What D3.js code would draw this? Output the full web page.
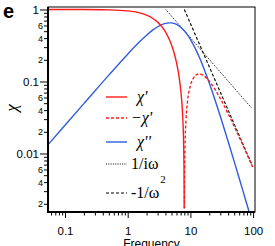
<!DOCTYPE html>
<html>
<head>
<meta charset="utf-8">
<script src="https://cdn.jsdelivr.net/npm/d3@7"></script>
<style>
  body { margin: 0; background: #fff; }
  svg { display: block; }
</style>
</head>
<body>
<svg id="chart"></svg>
<script>
// chi' (positive part, below resonance)
const freqRe = [0.05, 0.1, 0.2, 0.5, 1, 1.5, 2, 2.5, 3, 3.5, 4, 4.5, 5, 5.5, 6, 6.5, 7, 7.5, 7.8, 7.9, 7.95, 7.973];
const chiRe = [1.0, 0.9995, 0.9982, 0.9887, 0.9557, 0.9033, 0.835, 0.7549, 0.6676, 0.5773, 0.4877, 0.4017, 0.3215, 0.2485, 0.1833, 0.1263, 0.077, 0.0352, 0.0133, 0.00653, 0.00324, 0.00174];

// -chi' (above resonance)
const freqNeg = [8.027, 8.05, 8.1, 8.2, 8.5, 9, 10, 11, 12, 13, 14, 16, 20, 25, 30, 40, 50, 60, 70, 80, 90, 100];
const negChiRe = [0.00172, 0.00317, 0.00629, 0.01234, 0.02915, 0.053, 0.0877, 0.109, 0.1209, 0.1263, 0.1273, 0.1219, 0.1011, 0.0763, 0.0579, 0.0356, 0.0238, 0.0169, 0.0126, 0.00971, 0.00772, 0.00628];

// chi''
const freqIm = [0.05, 0.1, 0.2, 0.5, 1, 1.5, 2, 2.5, 3, 3.5, 4, 4.5, 5, 5.5, 6, 6.5, 7, 8, 9, 10, 12, 14, 16, 20, 25, 30, 40, 50, 60, 70, 80, 90];
const chiIm = [0.01235, 0.0247, 0.0493, 0.1226, 0.2397, 0.3468, 0.4398, 0.5164, 0.5755, 0.617, 0.6422, 0.6529, 0.6513, 0.6399, 0.6209, 0.5963, 0.5681, 0.5063, 0.4437, 0.385, 0.2865, 0.2133, 0.1605, 0.0951, 0.0537, 0.0329, 0.01466, 0.00771, 0.00453, 0.00288, 0.00194, 0.00137];

// asymptotes
const freqInv = [4.05, 95];
const invOmega = [1, 0.0426];
const freqSq = [8, 97];
const invOmegaSq = [1, 0.0068];

// ticks
const xMajor = [0.1, 1, 10, 100];
const xMajorLabels = ["0.1", "1", "10", "100"];
const xMinor = [0.06, 0.07, 0.08, 0.09, 0.2, 0.3, 0.4, 0.5, 0.6, 0.7, 0.8, 0.9,
  2, 3, 4, 5, 6, 7, 8, 9, 20, 30, 40, 50, 60, 70, 80, 90];
const yMajor = [1, 0.1, 0.01];
const yMajorLabels = ["1", "0.1", "0.01"];
const yMinor = [0.9, 0.8, 0.7, 0.6, 0.5, 0.4, 0.3, 0.2,
  0.09, 0.08, 0.07, 0.06, 0.05, 0.04, 0.03, 0.02,
  0.009, 0.008, 0.007, 0.006, 0.005, 0.004, 0.003, 0.002];
const yMinorLabeled = [0.6, 0.4, 0.2, 0.06, 0.04, 0.02, 0.006, 0.004, 0.002];
const yMinorLabels = ["6", "4", "2", "6", "4", "2", "6", "4", "2"];

const legendItems = ["χ'", "−χ'", "χ''", "1/iω", "-1/ω"];

const W = 275, H = 246;
const L = 48, R = 255, T = 7, B = 212;

const svg = d3.select("#chart").attr("width", W).attr("height", H);

const x = d3.scaleLog().domain([0.0536, 107.2]).range([L, R]);
const y = d3.scaleLog().domain([1.083, 0.00154]).range([T, B]);

const sans = "'Liberation Sans', Arial, sans-serif";
const serif = "'Liberation Serif', 'Times New Roman', serif";

svg.append("defs").append("clipPath").attr("id", "plotClip")
  .append("rect").attr("x", L).attr("y", T).attr("width", R - L).attr("height", B - T);

const toPts = (fs, vs) => fs.map((f, i) => [f, vs[i]]);
const line = d3.line()
  .x(d => x(d[0]))
  .y(d => y(d[1]))
  .curve(d3.curveMonotoneX);

const plot = svg.append("g").attr("clip-path", "url(#plotClip)");

plot.append("path")
  .attr("d", line(toPts(freqInv, invOmega)))
  .attr("fill", "none").attr("stroke", "#000").attr("stroke-width", 1)
  .attr("stroke-dasharray", "1,1.3");

plot.append("path")
  .attr("d", line(toPts(freqSq, invOmegaSq)))
  .attr("fill", "none").attr("stroke", "#000").attr("stroke-width", 1.1)
  .attr("stroke-dasharray", "3,2");

plot.append("path")
  .attr("d", line(toPts(freqIm, chiIm)))
  .attr("fill", "none").attr("stroke", "#2f5ce3").attr("stroke-width", 1.4);

plot.append("path")
  .attr("d", line(toPts(freqRe, chiRe)))
  .attr("fill", "none").attr("stroke", "#ff1a1a").attr("stroke-width", 1.4);

plot.append("path")
  .attr("d", line(toPts(freqNeg, negChiRe)))
  .attr("fill", "none").attr("stroke", "#ff1a1a").attr("stroke-width", 1.4)
  .attr("stroke-dasharray", "3,2");

// frame
svg.append("rect")
  .attr("x", L).attr("y", T).attr("width", R - L).attr("height", B - T)
  .attr("fill", "none").attr("stroke", "#000").attr("stroke-width", 1);

// axes
const styleAxis = g => {
  g.select(".domain").remove();
  g.selectAll(".tick line").attr("stroke", "#000").attr("stroke-width", 1);
};

svg.append("g").attr("transform", `translate(0,${B})`)
  .call(d3.axisBottom(x).tickValues(xMinor).tickSize(3.5).tickFormat(""))
  .call(styleAxis);

svg.append("g").attr("transform", `translate(0,${B})`)
  .call(d3.axisBottom(x).tickValues(xMajor).tickSize(6).tickPadding(9)
    .tickFormat((d, i) => xMajorLabels[i]))
  .call(styleAxis)
  .call(g => g.selectAll("text").attr("font-family", sans).attr("font-size", 11.5).attr("fill", "#000"));

svg.append("g").attr("transform", `translate(${L},0)`)
  .call(d3.axisLeft(y).tickValues(yMinor).tickSize(4).tickPadding(1)
    .tickFormat(d => {
      const k = yMinorLabeled.findIndex(v => Math.abs(v - d) < 1e-9);
      return k >= 0 ? yMinorLabels[k] : "";
    }))
  .call(styleAxis)
  .call(g => g.selectAll("text").attr("font-family", sans).attr("font-size", 9).attr("fill", "#000"));

svg.append("g").attr("transform", `translate(${L},0)`)
  .call(d3.axisLeft(y).tickValues(yMajor).tickSize(8).tickPadding(1)
    .tickFormat((d, i) => yMajorLabels[i]))
  .call(styleAxis)
  .call(g => g.selectAll("text").attr("font-family", sans).attr("font-size", 11.5).attr("fill", "#000"));

// thick left & bottom axis lines
svg.append("line").attr("x1", L).attr("x2", L).attr("y1", T).attr("y2", B + 1)
  .attr("stroke", "#000").attr("stroke-width", 2);
svg.append("line").attr("x1", L - 1).attr("x2", R).attr("y1", B).attr("y2", B)
  .attr("stroke", "#000").attr("stroke-width", 2);

// axis titles
svg.append("text")
  .attr("x", (L + R) / 2).attr("y", 248)
  .attr("text-anchor", "middle")
  .attr("font-family", sans).attr("font-size", 12)
  .text("Frequency");

svg.append("text")
  .attr("transform", "translate(17,108) rotate(-90)")
  .attr("text-anchor", "middle")
  .attr("font-family", serif).attr("font-style", "italic").attr("font-size", 17)
  .text("χ");

svg.append("text")
  .attr("x", 3).attr("y", 18)
  .attr("font-family", sans).attr("font-weight", "bold").attr("font-size", 20)
  .text("e");

// legend
const legY = [97, 118, 142, 164, 193];
const legStyle = [
  { stroke: "#ff1a1a", dash: null, w: 1.4 },
  { stroke: "#ff1a1a", dash: "3,2", w: 1.4 },
  { stroke: "#2f5ce3", dash: null, w: 1.4 },
  { stroke: "#000", dash: "1,1.3", w: 1 },
  { stroke: "#000", dash: "3,2", w: 1.1 }
];
const legX = [137, 131, 137, 131, 131];

const leg = svg.append("g");
legendItems.forEach((t, i) => {
  leg.append("line")
    .attr("x1", 106).attr("x2", 127)
    .attr("y1", legY[i]).attr("y2", legY[i])
    .attr("stroke", legStyle[i].stroke)
    .attr("stroke-width", legStyle[i].w)
    .attr("stroke-dasharray", legStyle[i].dash);
  const tx = leg.append("text")
    .attr("x", legX[i]).attr("y", legY[i] + 5)
    .attr("font-family", serif).attr("font-size", 16)
    .attr("font-style", i < 3 ? "italic" : "normal");
  tx.append("tspan").text(t);
  if (i === 4) {
    tx.append("tspan").attr("dx", 1).attr("dy", -15).attr("font-size", 11).text("2");
  }
});
</script>
</body>
</html>
